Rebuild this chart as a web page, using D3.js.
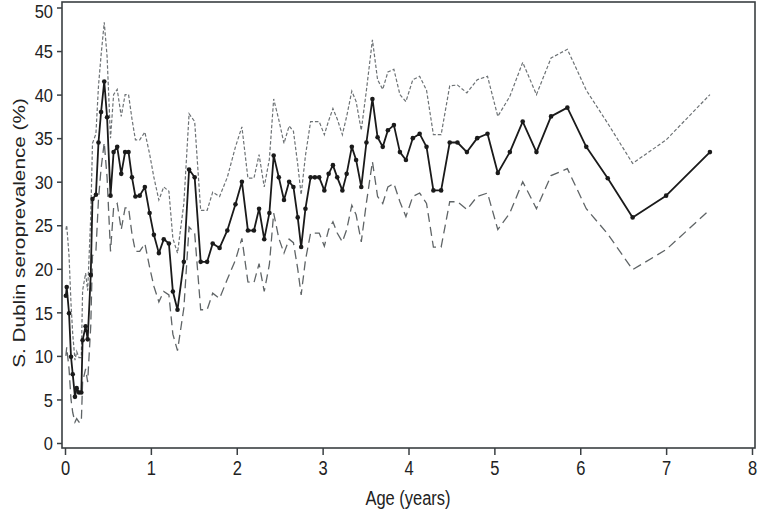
<!DOCTYPE html>
<html><head><meta charset="utf-8">
<script src="https://cdn.jsdelivr.net/npm/d3@7"></script>
<style>
html,body{margin:0;padding:0;background:#fff;}
svg text{font-family:"Liberation Sans","Arial",sans-serif;fill:#222;}
</style></head>
<body>
<svg id="c" width="758" height="514"></svg>
<script>
const ages = [0.01,0.02,0.047,0.07,0.09,0.116,0.136,0.163,0.19,0.205,0.24,0.264,0.30,0.32,0.36,0.39,0.42,0.457,0.49,0.53,0.566,0.608,0.655,0.70,0.74,0.78,0.82,0.87,0.93,0.985,1.035,1.093,1.15,1.21,1.256,1.31,1.384,1.445,1.51,1.58,1.655,1.72,1.80,1.89,1.985,2.06,2.13,2.20,2.26,2.32,2.38,2.43,2.49,2.55,2.61,2.66,2.71,2.75,2.80,2.86,2.91,2.96,3.02,3.07,3.12,3.17,3.23,3.28,3.34,3.39,3.45,3.51,3.58,3.64,3.70,3.76,3.83,3.90,3.97,4.05,4.13,4.21,4.29,4.38,4.48,4.57,4.68,4.80,4.92,5.04,5.18,5.33,5.49,5.66,5.85,6.07,6.32,6.61,7.0,7.51];
const prevalence = [16.9,17.9,14.9,9.9,7.9,5.3,6.3,5.8,5.8,11.8,13.4,11.9,19.3,28.0,28.5,34.5,38.0,41.5,37.4,28.4,33.4,34.0,30.9,33.4,33.4,30.5,28.3,28.4,29.4,26.4,23.9,21.8,23.4,22.9,17.4,15.3,20.8,31.4,30.5,20.8,20.8,22.9,22.4,24.4,27.4,30.0,24.4,24.4,26.9,23.4,26.4,33.0,30.5,27.9,30.0,29.4,25.9,22.5,26.9,30.5,30.5,30.5,29.0,30.9,31.9,30.5,29.0,30.9,34.0,32.5,29.4,34.5,39.5,35.1,34.0,35.9,36.5,33.4,32.5,35.0,35.5,34.0,29.0,29.0,34.5,34.5,33.4,35.0,35.5,31.0,33.4,36.9,33.4,37.5,38.5,34.0,30.4,25.9,28.4,33.4];
const upperCI = [24.5,25.0,21.5,16.0,12.5,9.5,10.5,9.8,9.8,17.5,19.5,17.5,26.0,34.4,35.5,41.0,44.5,48.3,44.4,35.0,40.0,40.6,37.5,40.0,40.0,37.2,34.8,34.8,35.7,33.2,30.5,27.9,29.4,28.9,23.5,21.8,27.5,37.8,36.9,26.7,26.7,28.8,28.3,30.5,34.0,36.3,30.4,30.4,33.1,29.4,32.6,39.5,37.1,34.4,36.4,35.8,32.0,28.5,33.0,36.9,36.9,36.9,35.4,37.0,38.4,37.2,35.4,37.5,40.4,39.2,35.9,40.5,46.3,41.7,40.6,42.6,42.9,40.0,39.2,41.7,42.1,40.5,35.4,35.4,41.0,41.1,40.2,41.7,42.1,37.5,39.8,43.7,40.0,44.2,45.2,40.5,36.7,32.1,34.8,40.0];
const lowerCI = [10.0,11.0,8.5,5.0,3.5,2.4,2.8,2.4,2.4,7.0,8.5,7.0,13.5,21.5,22.0,28.0,31.5,34.5,30.5,22.0,27.0,27.5,24.5,27.0,27.0,24.0,22.0,22.0,22.9,20.2,18.0,16.2,17.4,17.0,12.5,10.6,15.5,24.8,24.1,15.3,15.3,17.2,16.6,18.8,21.0,23.5,18.5,18.4,20.6,17.4,20.5,26.4,23.5,21.8,23.4,23.0,20.0,17.0,21.0,24.1,24.1,24.1,22.6,24.5,25.4,24.1,23.1,24.5,27.3,26.2,23.1,27.6,32.3,28.3,27.5,29.4,29.8,27.7,26.0,28.3,28.7,27.5,22.5,22.5,27.7,27.7,26.8,28.3,28.7,24.5,26.4,30.0,26.9,30.7,31.5,26.9,24.0,19.9,22.2,26.8];
const xTicks = [0,1,2,3,4,5,6,7,8];
const yTicks = [0,5,10,15,20,25,30,35,40,45,50];
const xTitle = "Age (years)";
const yTitle = "S. Dublin seroprevalence (%)";

const svg = d3.select("#c");
const x = d3.scaleLinear().domain([0,8]).range([65,752]);
const y = d3.scaleLinear().domain([0,50]).range([443,7.5]);
const vs = 1.25;  // vertical stretch of x-axis glyphs
const vsy = 1.12; // vertical stretch of y-axis glyphs

svg.append("rect").attr("x",62).attr("y",2).attr("width",693).attr("height",446)
  .attr("fill","none").attr("stroke","#3a3f42").attr("stroke-width",1.6);

const xAxis = d3.axisBottom(x).tickValues(xTicks).tickSize(7).tickPadding(4).tickFormat(d3.format("d"));
const gx = svg.append("g").attr("transform","translate(0,448)").call(xAxis);
gx.select(".domain").remove();
gx.selectAll("line").attr("stroke","#3a3f42").attr("stroke-width",1.5);
gx.selectAll("text").attr("font-size",16.5).attr("fill","#222")
  .attr("y",12/vs).attr("transform",`scale(1,${vs})`);

const yAxis = d3.axisLeft(y).tickValues(yTicks).tickSize(5).tickPadding(4).tickFormat(d3.format("d"));
const gy = svg.append("g").attr("transform","translate(62,0)").call(yAxis);
gy.select(".domain").remove();
gy.selectAll("line").attr("stroke","#3a3f42").attr("stroke-width",1.5);
gy.selectAll("text").attr("font-size",16.5).attr("fill","#222")
  .attr("transform",`scale(1,${vsy})`).attr("dy","0.36em")
  .attr("y", d => d === 50 ? 3 : 0);

svg.append("text").attr("transform",`translate(408,505) scale(1,${vs})`).attr("text-anchor","middle")
  .attr("font-size",16.5).text(xTitle);
svg.append("text").attr("transform","translate(25,233) scale(1,1.22) rotate(-90)").attr("text-anchor","middle")
  .attr("font-size",17).text(yTitle);

const data = ages.map((a,i)=>({a, p:prevalence[i], u:upperCI[i], l:lowerCI[i]}));
const line = key => d3.line().x(d=>x(d.a)).y(d=>y(d[key]));

svg.append("path").datum(data).attr("d",line("u")).attr("fill","none")
  .attr("stroke","#6d7275").attr("stroke-width",1.2).attr("stroke-dasharray","3.5,2");
svg.append("path").datum(data).attr("d",line("l")).attr("fill","none")
  .attr("stroke","#5f6466").attr("stroke-width",1.3).attr("stroke-dasharray","9,5");
svg.append("path").datum(data).attr("d",line("p")).attr("fill","none")
  .attr("stroke","#1a1a1a").attr("stroke-width",1.8).attr("stroke-linejoin","round");
svg.append("g").selectAll("circle").data(data).join("circle")
  .attr("cx",d=>x(d.a)).attr("cy",d=>y(d.p)).attr("r",2.3).attr("fill","#1a1a1a");
</script>
</body></html>
